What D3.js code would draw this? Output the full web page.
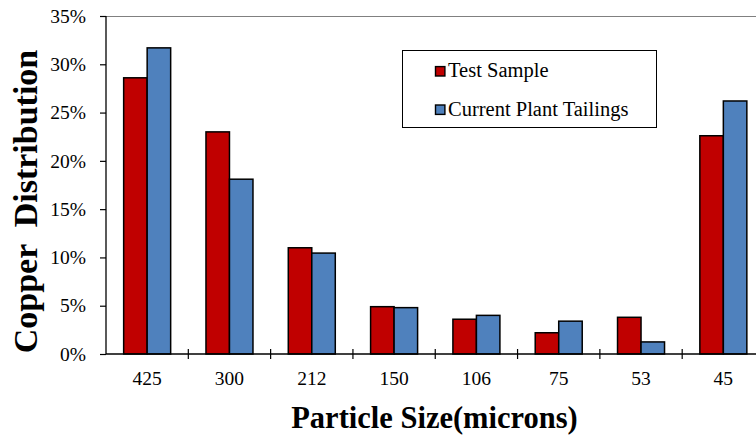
<!DOCTYPE html>
<html><head><meta charset="utf-8">
<script src="https://cdn.jsdelivr.net/npm/d3@7"></script>
<style>body{margin:0;background:#fff}svg{display:block}
svg text{font-family:"Liberation Serif","Times New Roman",Times,"DejaVu Serif",serif !important;}</style>
</head><body>
<svg id="c" width="756" height="438"></svg>
<script>
const categories = ["425","300","212","150","106","75","53","45"];
const testSample = [28.6, 23.0, 11.0, 4.9, 3.6, 2.2, 3.8, 22.6];
const plantTailings = [31.7, 18.1, 10.45, 4.8, 4.0, 3.4, 1.25, 26.2];
const yTicks = [0,5,10,15,20,25,30,35];
const seriesNames = ["Test Sample","Current Plant Tailings"];
const colors = ["#C00000","#4F81BD"];

(function(){
const svg = d3.select("#c");
const pL = 106, pT = 16, pB = 354, pR = 764.5;
const x = d3.scaleBand().domain(categories).range([pL, pR]).paddingInner(0).paddingOuter(0);
const xs = d3.scaleBand().domain([0,1]).range([0, 47]);
const y = d3.scaleLinear().domain([0,35]).range([pB, pT]);

svg.append("line").attr("x1",pL).attr("x2",756).attr("y1",pT+0.5).attr("y2",pT+0.5)
  .attr("stroke","#808080").attr("stroke-width",1);

const data = [testSample, plantTailings];
categories.forEach((c,i)=>{
  data.forEach((s,j)=>{
    const x0 = x(c) + (x.bandwidth()-47)/2 + xs(j);
    svg.append("rect").attr("x",x0).attr("y",y(s[i])).attr("width",xs.bandwidth())
      .attr("height",pB - y(s[i])).attr("fill",colors[j]).attr("stroke","#000").attr("stroke-width",1.5);
  });
});

const yAxis = d3.axisLeft(y).tickValues(yTicks).tickFormat(d=>d+"%").tickSize(6).tickPadding(14);
const ga = svg.append("g").attr("transform",`translate(${pL},0)`).call(yAxis);
ga.select(".domain").attr("stroke","#000").attr("stroke-width",1.3).attr("d",`M0,${pT}V${pB}`);
ga.selectAll(".tick line").attr("stroke","#000").attr("stroke-width",1.2);
ga.selectAll("text").attr("font-size",19.5).attr("fill","#000");

const xAxis = d3.axisBottom(x).tickSize(0);
const gx = svg.append("g").attr("transform",`translate(0,${pB})`).call(xAxis);
gx.select(".domain").attr("stroke","#000").attr("stroke-width",1.3).attr("d",`M${pL},0H756`);
gx.selectAll(".tick line").remove();
gx.selectAll("text").attr("font-size",19.5).attr("fill","#000").attr("y",31).attr("dy",0);
const bounds = categories.map(c=>x(c)).slice(1);
svg.selectAll(".bt").data(bounds).enter().append("line")
  .attr("x1",d=>d).attr("x2",d=>d).attr("y1",pB-5).attr("y2",pB+5)
  .attr("stroke","#000").attr("stroke-width",1.2);

svg.append("text").attr("x",434.5).attr("y",428).attr("text-anchor","middle")
  .attr("font-weight","bold").attr("font-size",30.5).text("Particle Size(microns)");
svg.append("text").attr("transform","translate(37,201.5) rotate(-90)").attr("text-anchor","middle")
  .attr("font-weight","bold").attr("font-size",34)
  .style("white-space","pre").text("Copper  Distribution");

const lg = svg.append("g");
lg.append("rect").attr("x",402.5).attr("y",50.5).attr("width",254).attr("height",77)
  .attr("fill","#fff").attr("stroke","#000").attr("stroke-width",1);
seriesNames.forEach((n,i)=>{
  const yy = 71.3 + i*38.4;
  lg.append("rect").attr("x",435.5).attr("y",yy-4.7).attr("width",9.4).attr("height",9.4)
    .attr("fill",colors[i]).attr("stroke","#000").attr("stroke-width",1.4);
  lg.append("text").attr("x",448).attr("y",yy+6).attr("font-size",20.5).text(n);
});
})();
</script>
</body></html>
